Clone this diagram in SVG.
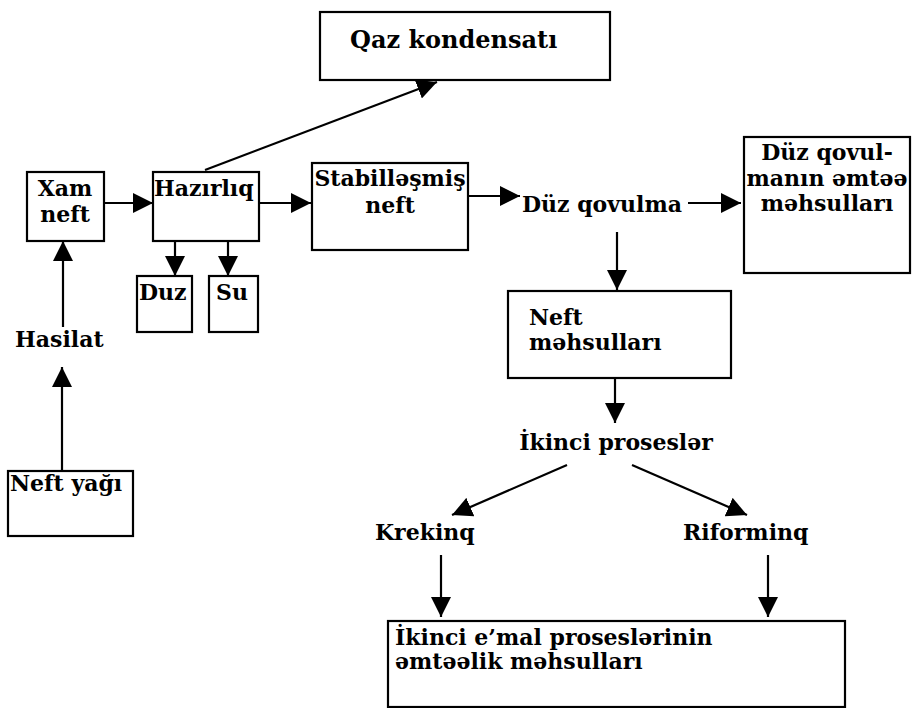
<svg xmlns="http://www.w3.org/2000/svg" width="912" height="708" viewBox="0 0 912 708">
<defs>
<marker id="ah" markerWidth="22" markerHeight="20" refX="20" refY="10" orient="auto" markerUnits="userSpaceOnUse">
<path d="M0,0 L20,10 L0,20 z" fill="#000"/>
</marker>
<style>
.box{fill:#fff;stroke:#000;stroke-width:2.2}
.t{font-family:"DejaVu Serif","Liberation Serif",serif;font-weight:bold;font-size:22px;fill:#000}
.c{text-anchor:middle}
.ln{stroke:#000;stroke-width:2.2;fill:none;marker-end:url(#ah)}
</style>
</defs>
<rect width="912" height="708" fill="#fff"/>
<g id="connectors">
<line class="ln" x1="104" y1="203" x2="153" y2="203"/>
<line class="ln" x1="259" y1="203" x2="311" y2="203"/>
<line class="ln" x1="468" y1="196" x2="520" y2="196"/>
<line class="ln" x1="688" y1="203" x2="741" y2="203"/>
<line class="ln" x1="205" y1="170" x2="437" y2="82"/>
<line class="ln" x1="175" y1="241" x2="175" y2="276"/>
<line class="ln" x1="228" y1="241" x2="228" y2="276"/>
<line class="ln" x1="63" y1="327" x2="63" y2="241"/>
<line class="ln" x1="62" y1="470" x2="62" y2="367"/>
<line class="ln" x1="617" y1="232" x2="617" y2="290"/>
<line class="ln" x1="615" y1="378" x2="615" y2="423"/>
<line class="ln" x1="567" y1="465" x2="452" y2="515"/>
<line class="ln" x1="632" y1="465" x2="747" y2="515"/>
<line class="ln" x1="441" y1="555" x2="441" y2="617"/>
<line class="ln" x1="768" y1="555" x2="768" y2="617"/>
</g>
<g id="qaz">
<rect class="box" x="320" y="12" width="290" height="68"/>
<text class="t" x="350" y="48" style="font-size:24px">Qaz kondensatı</text>
</g>
<g id="xam">
<rect class="box" x="27" y="172" width="77" height="69"/>
<text class="t c" x="65" y="196">Xam</text>
<text class="t c" x="65" y="222">neft</text>
</g>
<g id="hazirliq">
<rect class="box" x="153" y="172" width="106" height="69"/>
<text class="t" x="154" y="196">Hazırlıq</text>
</g>
<g id="stab">
<rect class="box" x="312" y="163" width="156" height="87"/>
<text class="t c" x="390" y="186">Stabilləşmiş</text>
<text class="t c" x="390" y="213">neft</text>
</g>
<g id="duzqovulma">
<text class="t" x="522" y="212">Düz qovulma</text>
</g>
<g id="emtee">
<rect class="box" x="744" y="137" width="166" height="136"/>
<text class="t c" x="827" y="160">Düz qovul-</text>
<text class="t c" x="827" y="186">manın əmtəə</text>
<text class="t c" x="827" y="211">məhsulları</text>
</g>
<g id="duz">
<rect class="box" x="137" y="276" width="55" height="56"/>
<text class="t" x="139" y="300">Duz</text>
</g>
<g id="su">
<rect class="box" x="209" y="276" width="49" height="56"/>
<text class="t" x="216" y="300">Su</text>
</g>
<g id="hasilat">
<text class="t" x="15" y="347">Hasilat</text>
</g>
<g id="neftyagi">
<rect class="box" x="8" y="471" width="125" height="65"/>
<text class="t" x="10" y="491">Neft yağı</text>
</g>
<g id="neftmehsul">
<rect class="box" x="508" y="291" width="223" height="87"/>
<text class="t" x="529" y="325">Neft</text>
<text class="t" x="529" y="350">məhsulları</text>
</g>
<g id="ikinci">
<text class="t c" x="616" y="450">İkinci proseslər</text>
</g>
<g id="krekinq">
<text class="t" x="375" y="540">Krekinq</text>
</g>
<g id="riforminq">
<text class="t" x="683" y="540">Riforminq</text>
</g>
<g id="emtelik">
<rect class="box" x="388" y="621" width="457" height="86"/>
<text class="t" x="395" y="645">İkinci e’mal proseslərinin</text>
<text class="t" x="395" y="669">əmtəəlik məhsulları</text>
</g>
</svg>
